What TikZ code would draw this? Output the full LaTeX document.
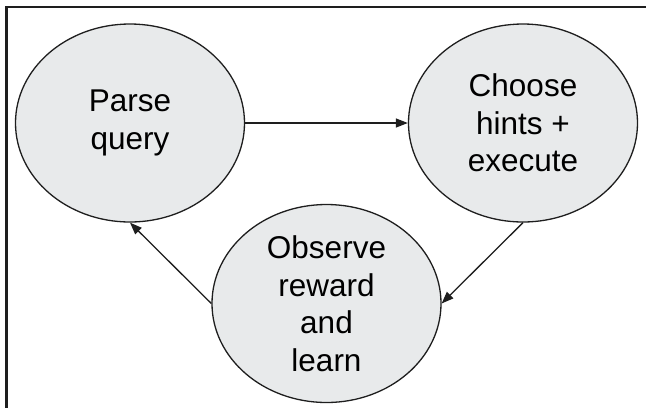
\documentclass[tikz,border=0pt]{standalone}
\usepackage{fontspec}
\setmainfont{Liberation Sans}
\usetikzlibrary{shapes.geometric,arrows.meta}
\definecolor{stateFill}{RGB}{232,234,235}
\definecolor{inkLine}{RGB}{30,30,30}
\tikzset{
  state/.style={ellipse, draw=inkLine, line width=1.3pt, fill=stateFill,
    minimum width=229pt, minimum height=198pt, inner sep=0pt,
    align=center, font=\fontsize{31.5}{37.5}\selectfont},
  flow/.style={draw=inkLine, line width=1.3pt, -{Triangle[length=12pt,width=9pt]}},
  frameline/.style={draw=inkLine, line width=2.4pt}
}
\begin{document}
\begin{tikzpicture}[x=1pt,y=-1pt]
  \useasboundingbox (0,0) rectangle (646,408);
  % partial frame: top and left edges
  \draw[frameline] (646,7) -- (6.5,7) -- (6.5,408);
  % the three stages of the loop
  \node[state] (parse)   at (130,123)   {Parse\\query};
  \node[state] (choose)  at (523,123)   {Choose\\hints +\\execute};
  \node[state] (observe) at (326.5,303.5) {Observe\\reward\\and\\learn};
  % transitions
  \draw[flow] (parse.east) -- (choose.west);
  \draw[flow] (choose.south) -- (observe.east);
  \draw[flow] (observe.west) -- (parse.south);
\end{tikzpicture}
\end{document}
